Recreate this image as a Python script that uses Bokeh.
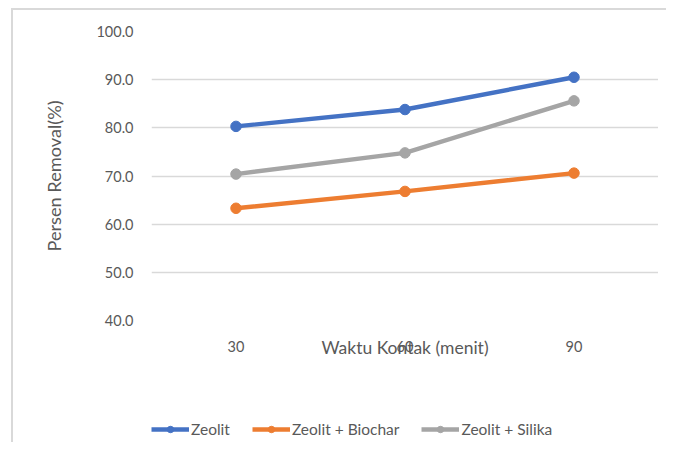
from bokeh.plotting import figure
from bokeh.layouts import column
from bokeh.models import FactorRange, Range1d, Legend, LegendItem, NumeralTickFormatter, FixedTicker
from bokeh.embed import file_html
from bokeh.resources import INLINE

categories = ["30", "60", "90"]
zeolit = [80.3, 83.8, 90.5]
zeolit_biochar = [63.3, 66.8, 70.6]
zeolit_silika = [70.4, 74.8, 85.6]
y_ticks = [40, 50, 60, 70, 80, 90, 100]
series_names = ["Zeolit", "Zeolit + Biochar", "Zeolit + Silika"]
colors = ["#4472C4", "#ED7D31", "#A5A5A5"]
series = [zeolit, zeolit_biochar, zeolit_silika]

FONT = "Lato"
TXT = "#595959"

p = figure(width=645, height=355, x_range=FactorRange(*categories), y_range=Range1d(40, 100),
           output_backend="svg", toolbar_location=None,
           min_border_left=120, min_border_right=0, min_border_top=21, min_border_bottom=45)
p.outline_line_color = None
p.background_fill_color = "white"
p.border_fill_color = "white"

p.xgrid.grid_line_color = None
p.ygrid.grid_line_color = "#d9d9d9"
p.ygrid.grid_line_width = 1.3
p.yaxis.ticker = FixedTicker(ticks=y_ticks)
p.yaxis.formatter = NumeralTickFormatter(format="0.0")
for ax in (p.xaxis, p.yaxis):
    ax.axis_line_color = None
    ax.major_tick_line_color = None
    ax.minor_tick_line_color = None
    ax.major_label_text_font = FONT
    ax.major_label_text_font_size = "14.5px"
    ax.major_label_text_color = TXT
    ax.axis_label_text_font = FONT
    ax.axis_label_text_font_size = "17.5px"
    ax.axis_label_text_font_style = "normal"
    ax.axis_label_text_color = TXT
p.yaxis.major_label_standoff = 12
p.xaxis.major_label_standoff = 14
p.yaxis.axis_label_text_font_size = "18.2px"

for vals, c in zip(series, colors):
    p.line(categories, vals, line_color=c, line_width=4.4)
    p.scatter(categories, vals, size=10.5, fill_color=c, line_color=c)

p.xaxis.axis_label = "Waktu Kontak (menit)"
p.xaxis.axis_label_standoff = -18
p.yaxis.axis_label = "Persen Removal(%)"
p.yaxis.axis_label_standoff = 28

# legend strip below the chart
q = figure(width=653, height=77, x_range=FactorRange(*categories), y_range=Range1d(0, 1),
           output_backend="svg", toolbar_location=None,
           min_border_left=138, min_border_right=0, min_border_top=55, min_border_bottom=0)
q.axis.visible = False
q.grid.grid_line_color = None
q.outline_line_color = None
q.background_fill_color = "white"
q.border_fill_color = "white"
items = []
for name, vals, c in zip(series_names, series, colors):
    r1 = q.line(categories, vals, line_color=c, line_width=4.4)
    r2 = q.scatter(categories, vals, size=10, fill_color=c, line_color=c)
    items.append(LegendItem(label=name, renderers=[r1, r2]))
legend = Legend(items=items, orientation="horizontal", location="top_left",
                glyph_width=38, glyph_height=16, label_standoff=2, spacing=22,
                label_text_font=FONT, label_text_font_size="15.5px", label_text_color=TXT,
                border_line_color=None, background_fill_alpha=0, padding=0, margin=0)
q.add_layout(legend, "center")

layout = column(p, q, spacing=0)
layout.styles = {"border-top": "2px solid #d9d9d9", "border-left": "2px solid #d9d9d9",
                 "margin-top": "8px", "margin-left": "11px"}
open("out.html", "w").write(file_html(layout, INLINE))
